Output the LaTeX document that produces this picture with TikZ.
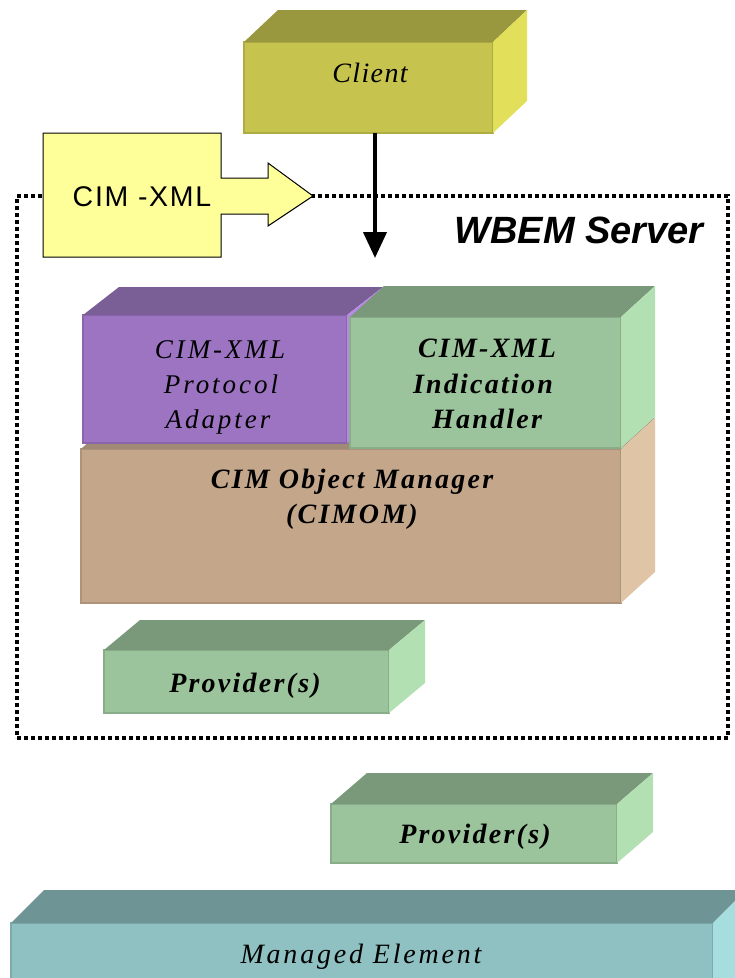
\documentclass[tikz,border=0pt]{standalone}
\usepackage{fontspec}
\setmainfont{Liberation Serif}
\newfontfamily\labelfont[LetterSpace=8]{Liberation Serif}
\newfontfamily\widefont[LetterSpace=11]{Liberation Serif}
\newfontfamily\clientfont[LetterSpace=5]{Liberation Serif}
\newfontfamily\elemfont[LetterSpace=10]{Liberation Serif}
\newfontfamily\notefont[LetterSpace=6]{Liberation Sans}
\newfontfamily\titlefont{Liberation Sans}
\usetikzlibrary{arrows.meta,calc,fit}

% face colours of the blocks
\definecolor{cliFront}{HTML}{C6C44E}
\definecolor{cliTop}{HTML}{9A983E}
\definecolor{cliSide}{HTML}{E2E05A}
\definecolor{purFront}{HTML}{9C74C2}
\definecolor{purTop}{HTML}{7A5E96}
\definecolor{purSide}{HTML}{B68AE6}
\definecolor{grnFront}{HTML}{9CC49C}
\definecolor{grnTop}{HTML}{7A987A}
\definecolor{grnSide}{HTML}{B2E0B2}
\definecolor{tanFront}{HTML}{C4A78B}
\definecolor{tanTop}{HTML}{A08A76}
\definecolor{tanSide}{HTML}{E0C4A6}
\definecolor{tealFront}{HTML}{90C1C2}
\definecolor{tealTop}{HTML}{6E9495}
\definecolor{tealSide}{HTML}{A6DDDE}
\definecolor{noteFill}{HTML}{FFFF99}

% a 3-D block: name, front corner, opposite front corner, depth vector, colour prefix
\newcommand\slab[5]{%
  \node[face, fill=#5Front, draw=#5Front!88!black, fit={#2 #3}] (#1) {};
  \fill[#5Top] (#1.north west) -- ++#4 -- ($(#1.north east)+#4$) -- (#1.north east) -- cycle;
  \fill[#5Side] (#1.north east) -- ++#4 -- ($(#1.south east)+#4$) -- (#1.south east) -- cycle;
}

\begin{document}
\begin{tikzpicture}[x=1pt,y=-1pt,
  face/.style={inner sep=0pt, outer sep=0pt, line width=1.2pt},
  txt/.style={anchor=base, inner sep=0pt, text=black},
  boldlbl/.style={txt, font=\labelfont\bfseries\itshape\fontsize{28}{34}\selectfont},
  widelbl/.style={txt, font=\widefont\itshape\fontsize{27}{32}\selectfont},
  frame/.style={draw=black, line width=3.3pt, dash pattern=on 4pt off 3pt, inner sep=0pt}]
\useasboundingbox (0,0) rectangle (735,978);
\clip (0,0) rectangle (735,978);

% WBEM server boundary
\node[frame, fit={(17,196) (728,738)}] (server) {};
\node[txt, font=\titlefont\bfseries\itshape\fontsize{38}{45}\selectfont] (wbem) at (579,243) {WBEM Server};

% CIM-XML block arrow
\filldraw[fill=noteFill, draw=black, line width=1pt]
  (43,133) -- (221,133) -- (221,178) -- (268,178) -- (268,163) -- (313,196)
  -- (268,226) -- (268,214) -- (221,214) -- (221,257) -- (43,257) -- cycle;
\node[txt, font=\notefont\fontsize{28.5}{34}\selectfont] (cimxml) at (142,206) {CIM -XML};

% client
\slab{client}{(244,42)}{(493,133)}{(34,-32)}{cli}
\node[txt, font=\clientfont\itshape\fontsize{28}{34}\selectfont] (clientlbl) at (370,82) {Client};

% request arrow into the server
\coordinate (tip) at (375,258);
\draw[line width=4pt, -{Triangle[length=26pt,width=23pt]}] (tip |- client.south) -- (tip);

% object manager with its two adapters on top
\slab{cimom}{(81,449)}{(621,603)}{(34,-31)}{tan}
\slab{adapter}{(83,315)}{(347,443)}{(36,-28)}{pur}
\slab{handler}{(350,317)}{(621,448)}{(34,-31)}{grn}

\node[widelbl] (ad1) at (220,358) {CIM-XML};
\node[widelbl] (ad2) at (221,393) {Protocol};
\node[widelbl] (ad3) at (218,428) {Adapter};

\node[boldlbl] (ih1) at (487,357) {CIM-XML};
\node[boldlbl] (ih2) at (483,393) {Indication};
\node[boldlbl] (ih3) at (487,428) {Handler};

\node[boldlbl] (om1) at (352,488) {CIM Object Manager};
\node[boldlbl] (om2) at (352,523) {(CIMOM)};

% providers
\slab{provA}{(104,650)}{(389,713)}{(36,-30)}{grn}
\node[boldlbl] (provAlbl) at (245,692) {Provider(s)};

\slab{provB}{(331,804)}{(617,863)}{(36,-31)}{grn}
\node[boldlbl] (provBlbl) at (475,843) {Provider(s)};

% managed element
\slab{element}{(11,923)}{(713,1000)}{(33,-33)}{teal}
\node[txt, font=\elemfont\itshape\fontsize{28}{34}\selectfont] (elementlbl) at (361,963) {Managed Element};
\end{tikzpicture}
\end{document}
